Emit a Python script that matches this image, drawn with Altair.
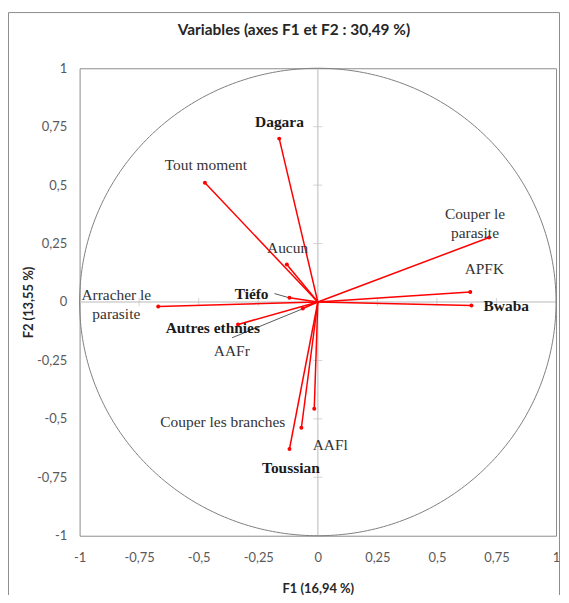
import altair as alt
import pandas as pd

# Variable coordinates on F1/F2
variables = ["Dagara", "Tout moment", "Aucun", "Tiéfo", "Arracher le parasite",
             "Autres ethnies", "AAFr", "Couper le parasite", "APFK", "Bwaba",
             "AAFl", "Couper les branches", "Toussian"]
f1 = [-0.162, -0.474, -0.130, -0.119, -0.670, -0.335, -0.063, 0.719, 0.640, 0.645,
      -0.015, -0.069, -0.119]
f2 = [0.699, 0.510, 0.160, 0.018, -0.019, -0.096, -0.028, 0.276, 0.043, -0.015,
      -0.457, -0.538, -0.629]

# Label texts and where they sit (data units)
label_text = ["Dagara", "Tout moment", "Aucun", "Tiéfo", "Arracher le\nparasite",
              "Autres ethnies", "AAFr", "Couper le\nparasite", "APFK", "Bwaba",
              "AAFl", "Couper les branches", "Toussian"]
label_x = [-0.161, -0.470, -0.127, -0.278, -0.846, -0.441, -0.361, 0.660, 0.699, 0.791,
           0.052, -0.399, -0.113]
label_y = [0.772, 0.585, 0.233, 0.036, 0.028, -0.113, -0.211, 0.377, 0.143, -0.019,
           -0.611, -0.513, -0.709]
label_bold = [True, False, False, True, False, True, False, False, False, True,
              False, False, True]

# Leader lines (label -> point)
leader_x = [-0.182, -0.360]
leader_y = [0.036, -0.153]
leader_x2 = [-0.120, -0.068]
leader_y2 = [0.018, -0.031]

tick_values = [-1, -0.75, -0.5, -0.25, 0, 0.25, 0.5, 0.75, 1]
inner_ticks = [-0.75, -0.5, -0.25, 0.25, 0.5, 0.75]

vec = pd.DataFrame({"var": variables, "f1": f1, "f2": f2})
lab = pd.DataFrame({"text": label_text, "lx": label_x, "ly": label_y, "bold": label_bold})
lead = pd.DataFrame({"x": leader_x, "y": leader_y, "x2": leader_x2, "y2": leader_y2})
ticks = pd.DataFrame({"v": inner_ticks, "zero": [0] * len(inner_ticks)})
cross = pd.DataFrame({"a": [-1, 0], "b": [0, -1], "a2": [1, 0], "b2": [0, 1]})

lbl_expr = "replace(toString(datum.value), '.', ',')"
xscale = alt.Scale(domain=[-1, 1], nice=False, zero=False)
yscale = alt.Scale(domain=[-1, 1], nice=False, zero=False)
xaxis = alt.Axis(values=tick_values, labelExpr=lbl_expr, title="F1 (16,94 %)",
                 grid=False, ticks=False, domain=False, labelPadding=16,
                 labelFont="Lato", labelFontSize=13, labelColor="#595959",
                 titleFont="Lato", titleFontSize=13, titleFontWeight="bold",
                 titleColor="#262626", titlePadding=18, labelFlush=False)
yaxis = alt.Axis(values=tick_values, labelExpr=lbl_expr, title="F2 (13,55 %)",
                 grid=False, ticks=False, domain=False, labelPadding=13,
                 labelFont="Lato", labelFontSize=13, labelColor="#595959",
                 titleFont="Lato", titleFontSize=13, titleFontWeight="bold",
                 titleColor="#262626", titlePadding=1, labelFlush=False)

# Outer frame
frame = alt.Chart(pd.DataFrame({"k": [0]})).mark_rule(color="#8c8c8c", strokeWidth=1).encode(
    x=alt.value(-71.5), y=alt.value(-56), y2=alt.value(580))
frame_top = alt.Chart(pd.DataFrame({"k": [0]})).mark_rule(color="#8c8c8c", strokeWidth=1).encode(
    x=alt.value(-71.5), x2=alt.value(482.5), y=alt.value(-56))
frame_right = alt.Chart(pd.DataFrame({"k": [0]})).mark_rule(color="#8c8c8c", strokeWidth=1).encode(
    x=alt.value(482.5), y=alt.value(-56), y2=alt.value(580))

axes_lines = alt.Chart(cross).mark_rule(color="#d0d0d0", strokeWidth=1.5).encode(
    x=alt.X("a:Q", scale=xscale, axis=xaxis),
    y=alt.Y("b:Q", scale=yscale, axis=yaxis),
    x2="a2:Q", y2="b2:Q")

hticks = alt.Chart(ticks).mark_tick(orient="vertical", size=8, thickness=1, color="#c0c0c0").encode(
    x=alt.X("v:Q", scale=xscale), y=alt.Y("zero:Q", scale=yscale))
vticks = alt.Chart(ticks).mark_tick(orient="horizontal", size=9, thickness=1, color="#c0c0c0").encode(
    x=alt.X("zero:Q", scale=xscale), y=alt.Y("v:Q", scale=yscale))

circle = alt.Chart(alt.sequence(0, 361, 1, as_="deg")).transform_calculate(
    cx="cos(datum.deg * PI / 180)", cy="sin(datum.deg * PI / 180)"
).mark_line(color="#7f7f7f", strokeWidth=1).encode(
    x=alt.X("cx:Q", scale=xscale), y=alt.Y("cy:Q", scale=yscale), order="deg:Q")

vec_base = alt.Chart(vec).transform_calculate(o="0")
arrows = vec_base.mark_rule(color="#ff0000", strokeWidth=1.5).encode(
    x=alt.X("o:Q", scale=xscale), y=alt.Y("o:Q", scale=yscale), x2="f1:Q", y2="f2:Q")
dots = alt.Chart(vec).mark_point(filled=True, color="#ff0000", size=16, opacity=1).encode(
    x=alt.X("f1:Q", scale=xscale), y=alt.Y("f2:Q", scale=yscale))

leaders = alt.Chart(lead).mark_rule(color="#595959", strokeWidth=1).encode(
    x=alt.X("x:Q", scale=xscale), y=alt.Y("y:Q", scale=yscale), x2="x2:Q", y2="y2:Q")

text_normal = alt.Chart(lab).transform_filter("!datum.bold").mark_text(
    font="Liberation Serif", fontSize=15.5, color="#333333", lineBreak="\n",
    lineHeight=19, align="center", baseline="middle").encode(
    x=alt.X("lx:Q", scale=xscale), y=alt.Y("ly:Q", scale=yscale), text="text:N")
text_bold = alt.Chart(lab).transform_filter("datum.bold").mark_text(
    font="Liberation Serif", fontSize=15.5, fontWeight="bold", color="#1a1a1a",
    align="center", baseline="middle").encode(
    x=alt.X("lx:Q", scale=xscale), y=alt.Y("ly:Q", scale=yscale), text="text:N")

chart = alt.layer(
    axes_lines, hticks, vticks, circle, frame, frame_top, frame_right,
    leaders, arrows, dots, text_normal, text_bold
).properties(
    width=479, height=470,
    title=alt.TitleParams("Variables (axes F1 et F2 : 30,49 %)", font="Lato",
                          fontSize=15.5, fontWeight="bold", color="#262626",
                          anchor="middle", frame="group", dx=-24, offset=-27),
    autosize=alt.AutoSizeParams(type="none"),
    padding={"left": 72, "top": 59, "right": 5, "bottom": 58},
).configure_view(stroke="#8c8c8c", strokeWidth=1)

chart.save("out.html", embed_options={"renderer": "svg", "actions": False})
